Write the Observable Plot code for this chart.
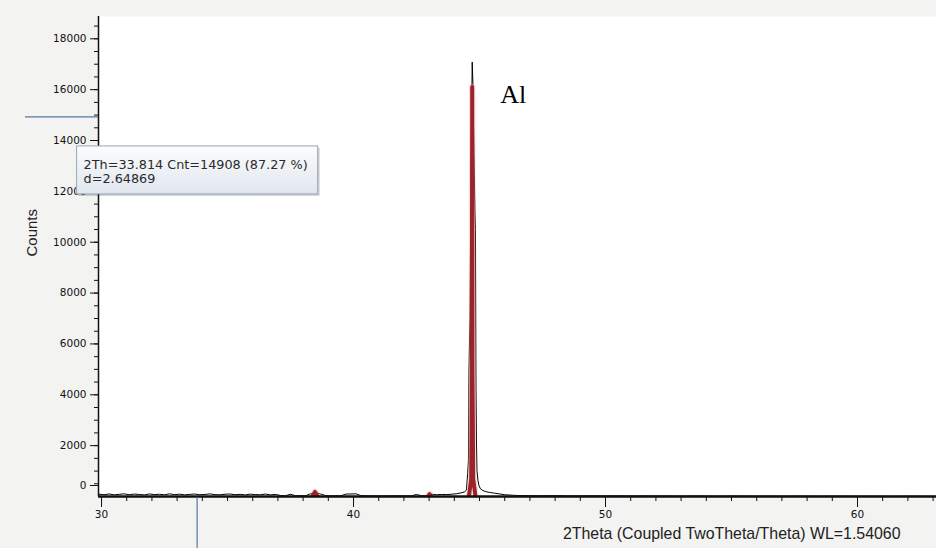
<!DOCTYPE html>
<html>
<head>
<meta charset="utf-8">
<script src="https://cdn.jsdelivr.net/npm/d3@7"></script>
<script src="https://cdn.jsdelivr.net/npm/@observablehq/plot@0.6"></script>
<style>
  html, body { margin: 0; padding: 0; background: #f3f3f2; }
  #chart { width: 936px; height: 548px; position: relative; }
  svg { display: block; }
</style>
</head>
<body>
<div id="chart"></div>
<script>
// Measured scan: 2θ (degrees) and intensity (counts)
const scanAngle = [
  29.9, 30.1, 30.3, 30.5, 30.7, 30.9, 31.1, 31.3, 31.5, 31.7, 31.9, 32.1, 32.3, 32.5, 32.7, 32.9,
  33.1, 33.3, 33.5, 33.7, 33.9, 34.1, 34.3, 34.5, 34.7, 34.9, 35.1, 35.3, 35.5, 35.7, 35.9, 36.1,
  36.3, 36.5, 36.7, 36.9, 37.1, 37.3, 37.5, 37.7, 37.9, 38.1, 38.3, 38.5, 38.7, 38.9, 39.1, 39.3,
  39.5, 39.7, 39.9, 40.1, 40.3, 40.5, 40.7, 40.9, 41.1, 41.3, 41.5, 41.7, 41.9, 42.1, 42.3, 42.5,
  42.7, 42.9, 43.1, 43.3, 43.5, 43.7, 43.9, 44.1, 44.3, 44.4, 44.48, 44.53, 44.56, 44.58, 44.62,
  44.66, 44.71, 44.74, 44.78, 44.82, 44.84, 44.86, 44.88, 44.9, 44.94, 44.98, 45.04, 45.12, 45.25,
  45.4, 45.6, 45.8, 46.0, 46.3, 46.5, 47.0, 47.5, 48.0, 48.5, 49.0, 49.5, 50.0, 50.5, 51.0, 51.5,
  52.0, 52.5, 53.0, 53.5, 54.0, 54.5, 55.0, 55.5, 56.0, 56.5, 57.0, 57.5, 58.0, 58.5, 59.0, 59.5,
  60.0, 60.5, 61.0, 61.5, 62.0, 62.5, 63.0, 63.2
];
const scanCounts = [
  90, 70, 100, 65, 85, 105, 70, 95, 80, 62, 100, 75, 88, 68, 104, 72,
  92, 64, 84, 98, 70, 80, 102, 74, 66, 90, 98, 70, 86, 62, 94, 76,
  68, 96, 64, 82, 40, 30, 90, 28, 34, 30, 110, 160, 95, 32, 28, 26,
  30, 95, 100, 105, 32, 28, 24, 26, 22, 28, 24, 30, 26, 24, 28, 80,
  30, 34, 90, 70, 80, 75, 90, 110, 150, 180, 250, 900, 1400, 4900, 7000,
  12500, 17083, 16200, 13500, 11200, 10500, 4300, 2100, 1000, 620, 420, 300, 240, 190,
  160, 130, 100, 70, 50, 40, 32, 28, 34, 26, 24, 30, 22, 26, 20, 24,
  18, 22, 16, 20, 18, 14, 20, 16, 14, 18, 12, 16, 14, 10, 14, 12,
  10, 12, 10, 8, 12, 10, 8, 8
];

// Second scan drawn in red; only its peaks rise above the baseline
const refAngle = [38.36, 38.47, 38.58, 42.95, 43.02, 43.09, 44.58, 44.67, 44.70, 44.71, 44.72, 44.75, 44.84];
const refCounts = [0, 180, 0, 0, 90, 0, 0, 700, 5000, 16100, 5000, 700, 0];
const refPeak = ["a", "a", "a", "b", "b", "b", "c", "c", "c", "c", "c", "c", "c"];

// Axis ticks
const xTicksMajor = [30, 40, 50, 60];
const xTicksMinor = [30, 31, 32, 33, 34, 35, 36, 37, 38, 39, 40, 41, 42, 43, 44, 45, 46, 47, 48, 49,
  50, 51, 52, 53, 54, 55, 56, 57, 58, 59, 60, 61, 62, 63];
const yTicksMajor = [2000, 4000, 6000, 8000, 10000, 12000, 14000, 16000, 18000];
const yTicksZero = [0];
const yTicksMinor = [500, 1000, 1500, 2000, 2500, 3000, 3500, 4000, 4500, 5000, 5500, 6000, 6500,
  7000, 7500, 8000, 8500, 9000, 9500, 10000, 10500, 11000, 11500, 12000, 12500, 13000, 13500,
  14000, 14500, 15000, 15500, 16000, 16500, 17000, 17500, 18000, 18500];
const xDomain = [29.88, 63.135];
const yDomain = [0, 18877];

const xLabel = "2Theta (Coupled TwoTheta/Theta) WL=1.54060";
const yLabel = "Counts";

// Peak annotation
const peakLabel = "Al";
const peakAngle = 44.71;
const peakLabelCount = 16100;

// Cursor read-out
const cursorAngle = 33.814;
const cursorCount = 14908;
const cursorPercent = 87.27;
const cursorD = 2.64869;

const scan = scanAngle.map((a, i) => ({angle: a, counts: scanCounts[i]}));
const ref = refAngle.map((a, i) => ({angle: a, counts: refCounts[i], peak: refPeak[i]}));
const plain = d => String(d);

const chart = Plot.plot({
  width: 936,
  height: 548,
  marginLeft: 98,
  marginRight: 0,
  marginTop: 16,
  marginBottom: 52,
  x: {domain: xDomain},
  y: {domain: yDomain},
  style: {background: "transparent", fontFamily: "DejaVu Sans", fontSize: "10.5px", color: "#111"},
  marks: [
    Plot.frame({fill: "white", stroke: null}),
    Plot.axisX(xTicksMinor, {tickSize: 5, tickFormat: () => "", label: null}),
    Plot.axisX(xTicksMajor, {tickSize: 11, tickPadding: 3, tickFormat: plain, label: null}),
    Plot.axisY(yTicksMinor, {tickSize: 4, tickFormat: () => "", label: null}),
    Plot.axisY(yTicksMajor, {tickSize: 8, tickPadding: 4, tickFormat: plain, label: null}),
    Plot.axisY(yTicksZero, {tickSize: 8, tickPadding: 4, tickFormat: plain, label: null, dy: -11}),
    Plot.line(scan, {x: "angle", y: "counts", stroke: "#000", strokeWidth: 1, clip: true}),
    Plot.line(ref, {x: "angle", y: "counts", z: "peak", stroke: "#eeaaaa", strokeWidth: 6.5, strokeOpacity: 0.4, clip: true}),
    Plot.line(ref, {x: "angle", y: "counts", z: "peak", stroke: "#9e2229", strokeWidth: 4, clip: true}),
    Plot.ruleY([0], {stroke: "#111", strokeWidth: 2.5}),
    Plot.ruleX([xDomain[0]], {stroke: "#111", strokeWidth: 1.5}),
    Plot.text([{angle: peakAngle, counts: peakLabelCount, label: peakLabel}], {
      x: "angle", y: "counts", text: "label", textAnchor: "start", dx: 28, dy: 8,
      fontFamily: "Liberation Serif", fontSize: 26, fill: "#000"
    }),
    Plot.text([yLabel], {
      frameAnchor: "left", rotate: -90, dx: -66, fontFamily: "Liberation Sans", fontSize: 15, fill: "#222"
    }),
    Plot.text([xLabel], {
      frameAnchor: "bottom-right", textAnchor: "end", dx: -36, dy: 42,
      fontFamily: "Liberation Sans", fontSize: 15.9, fill: "#222"
    })
  ]
});

document.getElementById("chart").appendChild(chart);

// Cursor cross-hair and its read-out box, placed through the plot's scales
const svg = d3.select(chart);
const cx = chart.scale("x").apply(cursorAngle);
const cy = chart.scale("y").apply(cursorCount);
const frameBottom = 548 - 52;
const frameLeft = 98;
const hair = "#56789f";
svg.append("line").attr("x1", frameLeft - 73).attr("x2", frameLeft).attr("y1", cy).attr("y2", cy)
  .attr("stroke", hair).attr("stroke-width", 1.2);
svg.append("line").attr("x1", cx).attr("x2", cx).attr("y1", frameBottom + 1).attr("y2", 548)
  .attr("stroke", hair).attr("stroke-width", 1.2);

const defs = svg.append("defs");
const grad = defs.append("linearGradient").attr("id", "tipfill").attr("x1", 0).attr("x2", 0).attr("y1", 0).attr("y2", 1);
grad.append("stop").attr("offset", "0%").attr("stop-color", "#fbfcfd");
grad.append("stop").attr("offset", "100%").attr("stop-color", "#e1e7ef");

const tip = svg.append("g").attr("text-anchor", "start");
const line1 = `2Th=${cursorAngle.toFixed(3)} Cnt=${cursorCount} (${cursorPercent.toFixed(2)} %)`;
const line2 = `d=${cursorD.toFixed(5)}`;
const shadow = tip.append("rect");
const box = tip.append("rect");
const t1 = tip.append("text").text(line1);
const t2 = tip.append("text").text(line2);
[t1, t2].forEach(t => t.attr("font-family", "DejaVu Sans").attr("font-size", 12.8)
  .attr("fill", "#2a2a2a").attr("text-anchor", "start"));
const textW = Math.max(t1.node().getComputedTextLength(), t2.node().getComputedTextLength());
const boxW = textW + 17;
const boxH = 48;
const bx = cx - boxW / 2;
const by = cy + 29;
shadow.attr("x", bx + 2).attr("y", by + 2).attr("width", boxW).attr("height", boxH)
  .attr("fill", "rgba(0,0,0,0.18)");
box.attr("x", bx).attr("y", by).attr("width", boxW).attr("height", boxH)
  .attr("fill", "url(#tipfill)").attr("stroke", "#9aa6b6").attr("stroke-width", 1);
t1.attr("x", bx + 7).attr("y", by + 23);
t2.attr("x", bx + 7).attr("y", by + 37);
</script>
</body>
</html>
